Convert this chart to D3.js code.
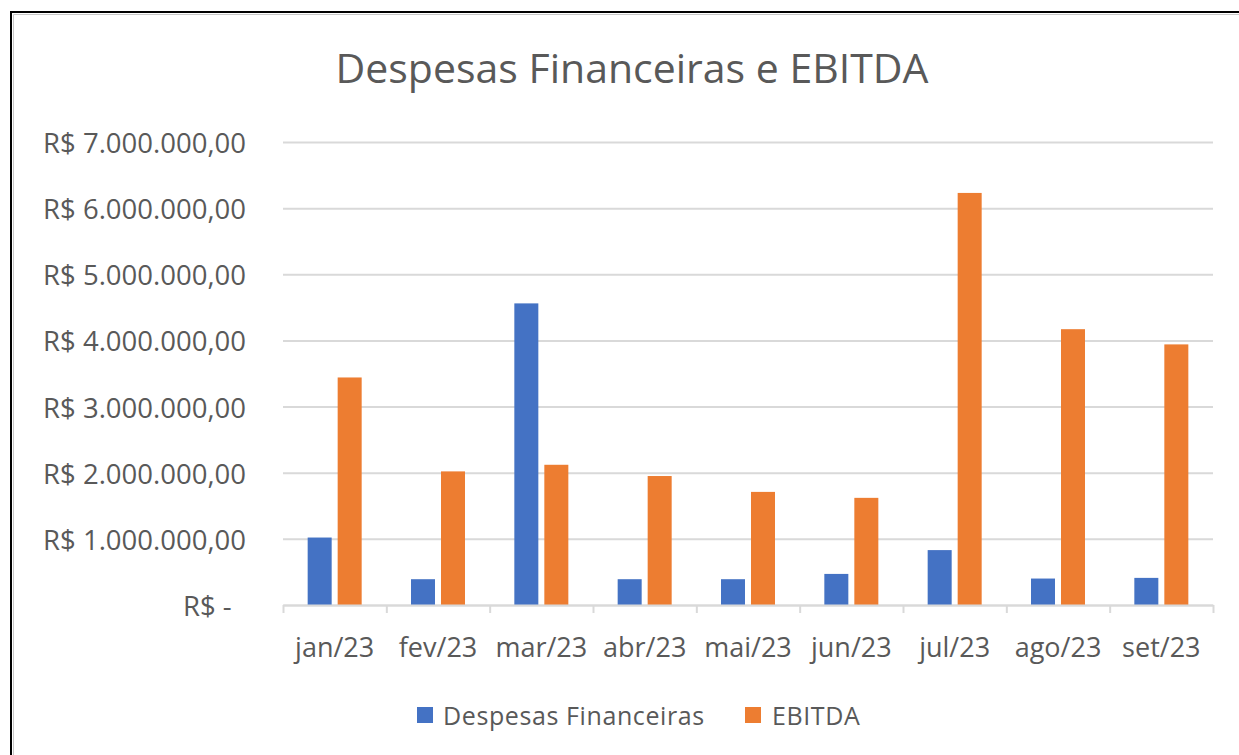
<!DOCTYPE html>
<html>
<meta charset="utf-8">
<head>
<style>
body {
    margin: 0;
    background: #fff;
    font-family: "Open Sans", sans-serif;
}
.axis text {
    fill: #595959;
    font-family: "Open Sans", sans-serif;
}
</style>
<script src="https://d3js.org/d3.v7.min.js"></script>
</head>
<body>
<script type="text/javascript">
// data
var months = ['jan/23', 'fev/23', 'mar/23', 'abr/23', 'mai/23', 'jun/23', 'jul/23', 'ago/23', 'set/23'];
var despesas = [1020000, 390000, 4560000, 390000, 390000, 470000, 830000, 400000, 410000];
var ebitda = [3440000, 2020000, 2120000, 1950000, 1710000, 1620000, 6230000, 4170000, 3940000];
var seriesNames = ['Despesas Financeiras', 'EBITDA'];
var seriesColors = ['#4472C4', '#ED7D31'];
var yTicks = [0, 1000000, 2000000, 3000000, 4000000, 5000000, 6000000, 7000000];

var W = 1239, H = 755;
var plot = {left: 283, right: 1213, top: 142, bottom: 605};
var textColor = '#595959', gridColor = '#d9d9d9';

var ptBR = d3.formatLocale({decimal: ',', thousands: '.', grouping: [3], currency: ['R$ ', '']});
var money = ptBR.format('$,.2f');

var svg = d3.select('body').append('svg')
    .attr('width', W)
    .attr('height', H);

// chart frame
svg.append('rect')
    .attr('x', 11).attr('y', 12)
    .attr('width', W + 20).attr('height', H + 20)
    .attr('fill', 'none')
    .attr('stroke', '#000')
    .attr('stroke-width', 2);
svg.append('path')
    .attr('d', 'M13.5,' + (H + 5) + 'V14.5H' + (W + 5))
    .attr('fill', 'none')
    .attr('stroke', '#c8c8c8')
    .attr('stroke-width', 1);

// title
svg.append('text')
    .attr('x', 632)
    .attr('y', 83)
    .attr('text-anchor', 'middle')
    .attr('fill', textColor)
    .style('font-size', '41px')
    .text('Despesas Financeiras e EBITDA');

var y = d3.scaleLinear().domain([0, 7000000]).range([plot.bottom, plot.top]);
var x0 = d3.scaleBand().domain(months).range([plot.left, plot.right]);
var x1 = d3.scaleBand().domain(seriesNames)
    .range([x0.bandwidth() / 2 - 27, x0.bandwidth() / 2 + 27])
    .paddingInner(0.2);

// y axis + gridlines
var yAxis = d3.axisLeft(y)
    .tickValues(yTicks)
    .tickSize(-(plot.right - plot.left))
    .tickPadding(37)
    .tickFormat(function(d) { return d === 0 ? 'R$ -\u00a0\u00a0' : money(d); });

svg.append('g')
    .attr('class', 'y axis')
    .attr('transform', 'translate(' + plot.left + ',0)')
    .call(yAxis)
    .call(function(g) {
        g.select('.domain').remove();
        g.selectAll('line').attr('stroke', gridColor).attr('stroke-width', 2);
        g.selectAll('text').style('font-size', '27.5px').attr('dy', '0.38em');
    });

// bars
var groups = svg.append('g').selectAll('g')
    .data(months)
    .enter().append('g')
        .attr('transform', function(d) { return 'translate(' + x0(d) + ',0)'; });

groups.selectAll('rect')
    .data(function(d, i) {
        return [
            {key: seriesNames[0], value: despesas[i], color: seriesColors[0]},
            {key: seriesNames[1], value: ebitda[i], color: seriesColors[1]}
        ];
    })
    .enter().append('rect')
        .attr('x', function(d) { return x1(d.key); })
        .attr('width', x1.bandwidth())
        .attr('y', function(d) { return y(d.value); })
        .attr('height', function(d) { return y(0) - y(d.value); })
        .attr('fill', function(d) { return d.color; });

// x axis: boundary ticks
var xb = d3.scaleLinear().domain([0, months.length]).range([plot.left, plot.right]);
svg.append('g')
    .attr('transform', 'translate(0,' + plot.bottom + ')')
    .call(d3.axisBottom(xb).tickValues(d3.range(months.length + 1)).tickSize(8).tickSizeOuter(0).tickFormat(''))
    .call(function(g) {
        g.selectAll('line, path').attr('stroke', gridColor).attr('stroke-width', 2);
    });

// x axis labels
svg.append('g')
    .attr('class', 'x axis')
    .attr('transform', 'translate(0,' + plot.bottom + ')')
    .call(d3.axisBottom(x0).tickSize(0).tickPadding(33))
    .call(function(g) {
        g.select('.domain').remove();
        g.selectAll('text').style('font-size', '27px');
    });

// legend
var legendPos = [{sx: 417, tx: 443}, {sx: 745, tx: 772}];
var legend = svg.append('g').selectAll('g')
    .data(seriesNames)
    .enter().append('g');

legend.append('rect')
    .attr('x', function(d, i) { return legendPos[i].sx; })
    .attr('y', 707)
    .attr('width', 16)
    .attr('height', 16)
    .attr('fill', function(d, i) { return seriesColors[i]; });

legend.append('text')
    .attr('x', function(d, i) { return legendPos[i].tx; })
    .attr('y', 725)
    .attr('fill', textColor)
    .style('font-size', '25px')
    .style('letter-spacing', '0.6px')
    .text(function(d) { return d; });
</script>
</body>
</html>
